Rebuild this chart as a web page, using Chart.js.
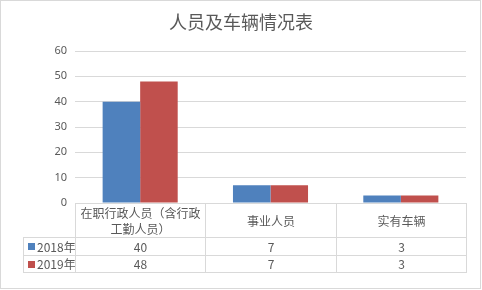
<!DOCTYPE html>
<html><head><meta charset="utf-8">
<script src="https://cdn.jsdelivr.net/npm/chart.js@4/dist/chart.umd.min.js"></script>
<style>
html,body{margin:0;padding:0;background:#fff;}
#wrap{position:relative;width:482px;height:290px;overflow:hidden;font-family:"Noto Sans CJK SC","Noto Sans",sans-serif;color:#595959;}
#frame{position:absolute;left:0;top:0;width:479px;height:287px;border:1px solid #D9D9D9;pointer-events:none;}
#title{position:absolute;left:0;top:8px;width:482px;text-align:center;font-size:18px;line-height:26px;color:#595959;}
#c{position:absolute;left:0;top:0;}
.cell{position:absolute;box-sizing:border-box;display:flex;align-items:center;justify-content:center;text-align:center;font-size:12px;line-height:16px;color:#595959;}
.sw{display:inline-block;width:7px;height:7px;margin-right:2px;}
</style></head>
<body><div id="wrap"><canvas id="c" width="482" height="290"></canvas><div id="title"></div><div id="tbl"></div><div id="frame"></div></div>
<script>
const titleText = "人员及车辆情况表";
const categories = ["在职行政人员（含行政工勤人员）", "事业人员", "实有车辆"];
const seriesNames = ["2018年", "2019年"];
const values2018 = [40, 7, 3];
const values2019 = [48, 7, 3];
const yTicks = [0, 10, 20, 30, 40, 50, 60];
const colors = ["#4F81BD", "#C0504D"];

document.getElementById('title').textContent = titleText;

const tablePlugin = {
  id: 'dataTable',
  afterRender(chart) {
    const host = document.getElementById('tbl');
    host.innerHTML = '';
    const x = chart.scales.x;
    const area = chart.chartArea;
    const n = categories.length;
    const bounds = [];
    for (let i = 0; i < n; i++) {
      const c = x.getPixelForValue(i);
      const next = i < n - 1 ? x.getPixelForValue(i + 1) : null;
      bounds.push(i === 0 ? area.left : (x.getPixelForValue(i - 1) + c) / 2);
    }
    bounds.push(area.right);
    const headTop = area.bottom, headH = 34, rowH = 17.5;
    const legendLeft = 23;
    const bc = '#D9D9D9';
    function add(l, t, w, h, html, borders) {
      const d = document.createElement('div');
      d.className = 'cell';
      d.style.left = l + 'px'; d.style.top = t + 'px';
      d.style.width = w + 'px'; d.style.height = h + 'px';
      d.style.borderLeft = '1px solid ' + bc;
      d.style.borderTop = '1px solid ' + bc;
      if (borders.r) d.style.borderRight = '1px solid ' + bc;
      if (borders.b) d.style.borderBottom = '1px solid ' + bc;
      d.innerHTML = html;
      host.appendChild(d);
      return d;
    }
    for (let i = 0; i < n; i++) {
      const d = add(Math.round(bounds[i]), Math.round(headTop), Math.round(bounds[i + 1]) - Math.round(bounds[i]) + (i === n - 1 ? 1 : 0), headH + 1, '', {r: i === n - 1});
      d.style.padding = '0 4px';
      d.textContent = categories[i];
    }
    const rows = [values2018, values2019];
    rows.forEach((vals, r) => {
      const top = Math.round(headTop + headH + r * rowH);
      const h = Math.round(headTop + headH + (r + 1) * rowH) - top + (r === rows.length - 1 ? 1 : 0);
      const lg = add(legendLeft, top, Math.round(bounds[0]) - legendLeft + 1, h, '', {b: r === rows.length - 1});
      lg.style.justifyContent = 'flex-start';
      lg.style.paddingLeft = '4px';
      lg.innerHTML = '<span class="sw" style="background:' + colors[r] + '"></span>';
      lg.appendChild(document.createTextNode(seriesNames[r]));
      for (let i = 0; i < n; i++) {
        const d = add(Math.round(bounds[i]), top, Math.round(bounds[i + 1]) - Math.round(bounds[i]) + (i === n - 1 ? 1 : 0), h, '', {r: i === n - 1, b: r === rows.length - 1});
        d.textContent = String(vals[i]);
      }
    });
  }
};

new Chart(document.getElementById('c'), {
  type: 'bar',
  data: {
    labels: categories,
    datasets: [
      {label: seriesNames[0], data: values2018, backgroundColor: colors[0], categoryPercentage: 0.576, barPercentage: 1},
      {label: seriesNames[1], data: values2019, backgroundColor: colors[1], categoryPercentage: 0.576, barPercentage: 1}
    ]
  },
  options: {
    responsive: false,
    animation: false,
    devicePixelRatio: 1,
    layout: {padding: {left: 0, right: 16, top: 51, bottom: 87}},
    plugins: {legend: {display: false}, title: {display: false}, tooltip: {enabled: false}},
    scales: {
      x: {
        grid: {display: false, drawTicks: false},
        ticks: {display: false},
        border: {display: false},
        afterFit(s) { s.height = 0; }
      },
      y: {
        min: yTicks[0], max: yTicks[yTicks.length - 1],
        afterBuildTicks(s) { s.ticks = yTicks.map(v => ({value: v})); },
        grid: {color: '#D9D9D9', drawTicks: false, lineWidth: 1},
        border: {display: false},
        ticks: {padding: 8, color: '#595959', font: {family: '"Noto Sans", sans-serif', size: 11}},
        afterFit(s) { s.width = 75; }
      }
    }
  },
  plugins: [tablePlugin]
});
</script></body></html>
